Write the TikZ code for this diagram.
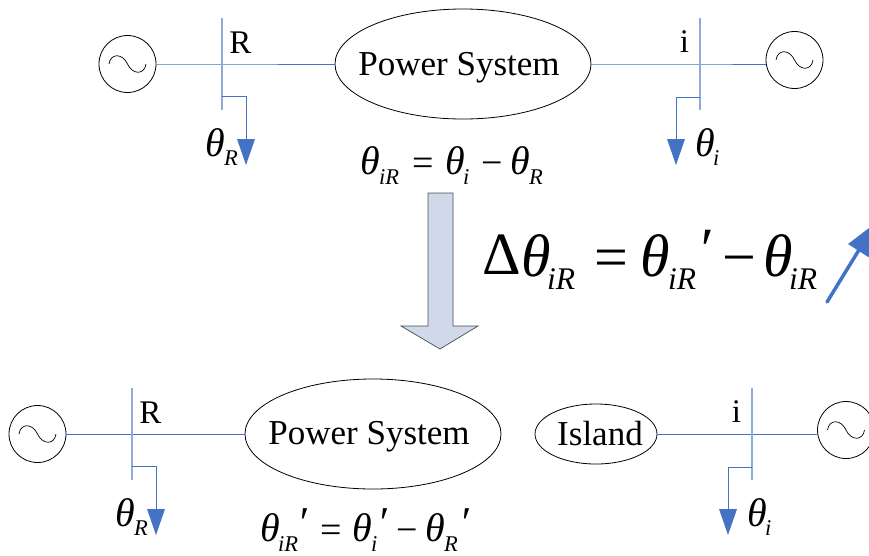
\documentclass[tikz,border=0pt]{standalone}
\usepackage{fontspec}
\setmainfont{Liberation Serif}
\usetikzlibrary{shapes.geometric,calc}
\definecolor{linkblue}{HTML}{4472C4}
\definecolor{busblue}{HTML}{8FAADC}
\definecolor{blockfill}{HTML}{CFD9EA}
\tikzset{
  x=1pt,y=-1pt,
  gen/.style={circle,draw=black,line width=0.8pt,minimum size=57pt,inner sep=0pt,fill=white},
  sysell/.style={ellipse,draw=black,line width=0.8pt,inner sep=0pt,fill=white},
  link/.style={draw=linkblue,line width=1pt},
  bus/.style={draw=busblue,line width=1.6pt},
  tap/.style={draw=linkblue,line width=1pt},
  lbl/.style={inner sep=0pt,anchor=base,font=\fontsize{35}{36}\selectfont},
  buslbl/.style={inner sep=0pt,anchor=base,font=\fontsize{33}{34}\selectfont},
  bw/.style={inner sep=0pt,anchor=base west},
  thS/.style={bw,font=\fontsize{40}{40}\selectfont\itshape},
  subS/.style={bw,font=\fontsize{22.5}{24}\selectfont\itshape},
  opS/.style={bw,font=\fontsize{38}{40}\selectfont},
  prS/.style={bw,font=\fontsize{44}{44}\selectfont\itshape},
  thB/.style={bw,font=\fontsize{60}{60}\selectfont\itshape},
  subB/.style={bw,font=\fontsize{31.5}{32}\selectfont\itshape},
  opB/.style={bw,font=\fontsize{60}{60}\selectfont},
  headtri/.style={fill=linkblue,draw=none},
  pics/acsource/.style={code={
    \draw[black,line width=0.7pt] (-18.5,0) .. controls (-17,-11) and (-5,-11) .. (0,0)
      .. controls (5,11) and (17,11) .. (18.5,0);
  }}
}
\begin{document}
\begin{tikzpicture}
\useasboundingbox (0,0) rectangle (869,555);
% ---- top row
\node[gen] (g1) at (127.5,64) {};
\pic at (g1.center) {acsource};
\node[gen] (g2) at (794.5,60) {};
\pic at (g2.center) {acsource};
\node[sysell,minimum width=256pt,minimum height=110pt] (ps1) at (463,64) {};
\node[lbl] (ps1t) at (459,75) {Power System};
\coordinate (busRt) at (222,18); \coordinate (busRb) at (222,110); \coordinate (jR) at (222,64);
\coordinate (busIt) at (700,18); \coordinate (busIb) at (700,110); \coordinate (jI) at (700,64);
\coordinate (tapR) at (222,96); \coordinate (tapRc) at (246,96); \coordinate (tapRe) at (246,139);
\coordinate (tapI) at (700,97); \coordinate (tapIc) at (676,97); \coordinate (tapIe) at (676,139);
\draw[link] (g1.east |- jR) -- (jR) -- (ps1.west);
\draw[link] (ps1.east) -- (jI) -- (g2.west |- jI);
\draw[bus] (busRt) -- (busRb);
\draw[bus] (busIt) -- (busIb);
\draw[tap] (tapR) -- (tapRc) -- (tapRe);
\draw[tap] (tapI) -- (tapIc) -- (tapIe);
\fill[headtri] ($(tapRe)+(-9,0)$) -- ($(tapRe)+(9,0)$) -- ($(tapRe)+(0,26)$) -- cycle;
\fill[headtri] ($(tapIe)+(-9,0)$) -- ($(tapIe)+(9,0)$) -- ($(tapIe)+(0,26)$) -- cycle;
\node[buslbl] (lR) at (240.5,53) {R};
\node[buslbl] (lI) at (684.5,52) {i};
\node[thS] (a1) at (205,156) {θ};
\node[subS] (a2) at (224,165) {R};
\node[thS] (b1) at (695,156) {θ};
\node[subS] (b2) at (713,165) {i};
% equation under the top ellipse
\node[thS] (c1) at (360.5,174) {θ};
\node[subS] (c2) at (379,184) {iR};
\node[opS] (c3) at (412,175) {=};
\node[thS] (c4) at (445,174) {θ};
\node[subS] (c5) at (463,184) {i};
\node[opS] (c6) at (481,175) {−};
\node[thS] (c7) at (510,174) {θ};
\node[subS] (c8) at (529,184) {R};
% ---- block arrow
\draw[draw=black!70,line width=0.7pt,fill=blockfill] (428,193) -- (453,193) -- (453,326) -- (478,326) -- (440,349) -- (401,326) -- (428,326) -- cycle;
% ---- big formula
\node[opB] (d0) at (482,274) {Δ};
\node[thB] (d1) at (521,276) {θ};
\node[subB] (d2) at (547,289) {iR};
\node[opB] (d3) at (594,277) {=};
\node[thB] (d4) at (640.5,276) {θ};
\node[subB] (d5) at (668,289) {iR};
\node[thB] (d6) at (697,269) {′};
\node[opB] (d7) at (722,277) {−};
\node[thB] (d8) at (763,276) {θ};
\node[subB] (d9) at (789,289) {iR};
% ---- blue arrow
\coordinate (arrS) at (827,302); \coordinate (arrE) at (862,245);
\draw[draw=linkblue,line width=3.5pt,line cap=round] (arrS) -- (arrE);
\fill[headtri] (848,244) -- (873,225) -- (873,260) -- cycle;
% ---- bottom row
\node[gen] (g3) at (37.5,434) {};
\pic at (g3.center) {acsource};
\node[gen] (g4) at (846,430) {};
\pic at (g4.center) {acsource};
\node[sysell,minimum width=256pt,minimum height=110pt] (ps2) at (373,434) {};
\node[lbl] (ps2t) at (369,444) {Power System};
\node[sysell,minimum width=122pt,minimum height=60pt] (isl) at (596,434) {};
\node[lbl] (islt) at (600,445) {Island};
\coordinate (bus2Rt) at (132,388); \coordinate (bus2Rb) at (132,480); \coordinate (j2R) at (132,434);
\coordinate (bus2It) at (752,388); \coordinate (bus2Ib) at (752,480); \coordinate (j2I) at (752,434);
\coordinate (tap2R) at (132,466); \coordinate (tap2Rc) at (156,466); \coordinate (tap2Re) at (156,509);
\coordinate (tap2I) at (752,467); \coordinate (tap2Ic) at (728,467); \coordinate (tap2Ie) at (728,509);
\draw[link] (g3.east |- j2R) -- (j2R) -- (ps2.west);
\draw[link] (isl.east) -- (j2I) -- (g4.west |- j2I);
\draw[bus] (bus2Rt) -- (bus2Rb);
\draw[bus] (bus2It) -- (bus2Ib);
\draw[tap] (tap2R) -- (tap2Rc) -- (tap2Re);
\draw[tap] (tap2I) -- (tap2Ic) -- (tap2Ie);
\fill[headtri] ($(tap2Re)+(-9,0)$) -- ($(tap2Re)+(9,0)$) -- ($(tap2Re)+(0,26)$) -- cycle;
\fill[headtri] ($(tap2Ie)+(-9,0)$) -- ($(tap2Ie)+(9,0)$) -- ($(tap2Ie)+(0,26)$) -- cycle;
\node[buslbl] (l2R) at (150.5,423) {R};
\node[buslbl] (l2I) at (736.5,422) {i};
\node[thS] (e1) at (115,526) {θ};
\node[subS] (e2) at (134,535) {R};
\node[thS] (f1) at (747,526) {θ};
\node[subS] (f2) at (765,535) {i};
% equation under the bottom ellipse
\node[thS] (h1) at (260.5,541) {θ};
\node[subS] (h2) at (278,551) {iR};
\node[prS] (h3) at (297,537) {′};
\node[opS] (h4) at (320,542) {=};
\node[thS] (h5) at (352.5,541) {θ};
\node[subS] (h6) at (371,551) {i};
\node[prS] (h7) at (377,537) {′};
\node[opS] (h8) at (396,542) {−};
\node[thS] (h9) at (425.5,541) {θ};
\node[subS] (h10) at (444,551) {R};
\node[prS] (h11) at (459,537) {′};
\end{tikzpicture}
\end{document}
